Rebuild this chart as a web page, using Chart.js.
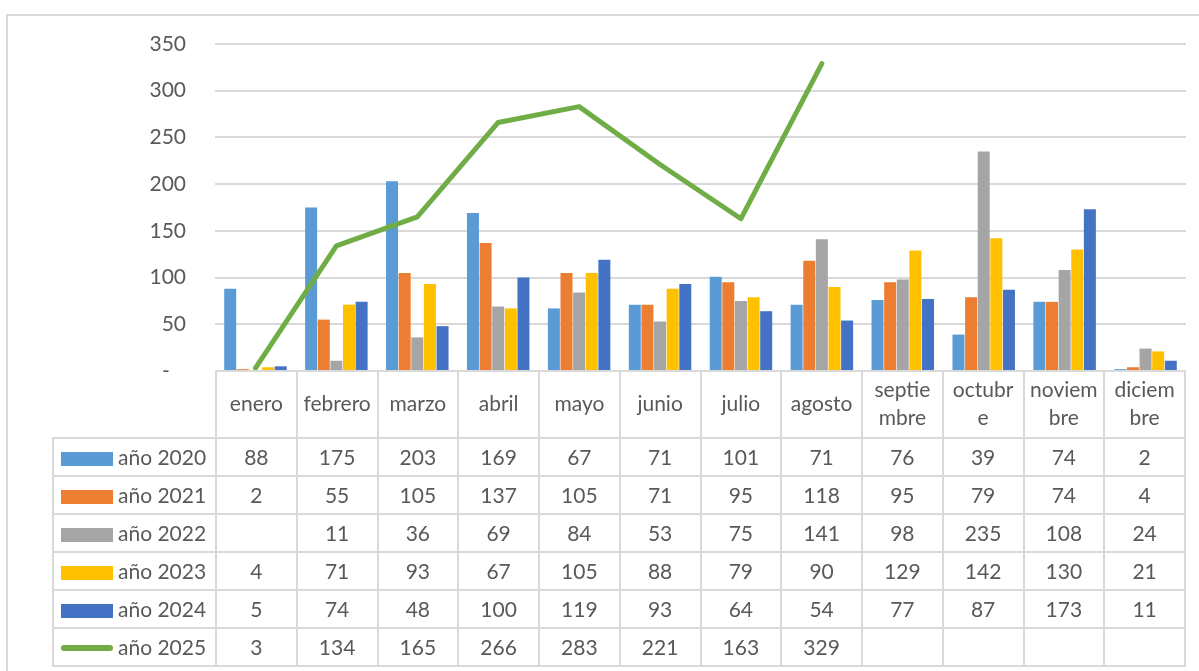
<!DOCTYPE html>
<html lang="es">
<head>
<meta charset="utf-8">
<script src="https://cdn.jsdelivr.net/npm/chart.js@4.4.1/dist/chart.umd.min.js"></script>
<style>
  html, body { margin: 0; padding: 0; background: #fff; overflow: hidden; }
  body { width: 1199px; height: 671px; position: relative; font-family: Lato, sans-serif; color: #595959; }
  #frame { position: absolute; left: 6px; top: 14px; width: 1300px; height: 700px; border: 2px solid #d9d9d9; box-sizing: border-box; }
  #chart { position: absolute; left: 0; top: 0; }
  #dataTable {
    position: absolute; left: 52px; top: 370px;
    border-collapse: collapse; table-layout: fixed; width: 1134px;
    font-size: 21px; color: #595959;
  }
  #dataTable td { border: 2px solid #d9d9d9; padding: 0; text-align: center; vertical-align: middle; white-space: nowrap; overflow: hidden; }
  #dataTable tr.head td { height: 62px; line-height: 28px; padding-bottom: 3px; }
  #dataTable tr.row td { height: 36px; line-height: 22px; }
  #dataTable td.corner { border-top: none; border-left: none; }
  #dataTable td.name { text-align: left; padding-left: 7px; }
  .key { display: inline-block; width: 52px; height: 14px; margin-right: 5px; vertical-align: -1px; }
  .key.line { height: 6px; border-radius: 3px; vertical-align: 4px; }
</style>
</head>
<body>
<div id="frame"></div>
<canvas id="chart" width="1199" height="671"></canvas>
<table id="dataTable"></table>

<script>
// ── Data ───────────────────────────────────────────────────────────────────
const months = ['enero', 'febrero', 'marzo', 'abril', 'mayo', 'junio', 'julio', 'agosto',
                'septiembre', 'octubre', 'noviembre', 'diciembre'];
// header cells as Excel wrapped them
const monthLabels = [['enero'], ['febrero'], ['marzo'], ['abril'], ['mayo'], ['junio'], ['julio'], ['agosto'],
                     ['septie', 'mbre'], ['octubr', 'e'], ['noviem', 'bre'], ['diciem', 'bre']];

const y2020 = [88, 175, 203, 169, 67, 71, 101, 71, 76, 39, 74, 2];
const y2021 = [2, 55, 105, 137, 105, 71, 95, 118, 95, 79, 74, 4];
const y2022 = [null, 11, 36, 69, 84, 53, 75, 141, 98, 235, 108, 24];
const y2023 = [4, 71, 93, 67, 105, 88, 79, 90, 129, 142, 130, 21];
const y2024 = [5, 74, 48, 100, 119, 93, 64, 54, 77, 87, 173, 11];
const y2025 = [3, 134, 165, 266, 283, 221, 163, 329, null, null, null, null];

const yTicks = [0, 50, 100, 150, 200, 250, 300, 350];

const series = [
  { name: 'año 2020', data: y2020, color: '#5B9BD5', type: 'bar' },
  { name: 'año 2021', data: y2021, color: '#ED7D31', type: 'bar' },
  { name: 'año 2022', data: y2022, color: '#A5A5A5', type: 'bar' },
  { name: 'año 2023', data: y2023, color: '#FFC000', type: 'bar' },
  { name: 'año 2024', data: y2024, color: '#4472C4', type: 'bar' },
  { name: 'año 2025', data: y2025, color: '#70AD47', type: 'line' }
];

// ── Chart ──────────────────────────────────────────────────────────────────
const chart = new Chart(document.getElementById('chart'), {
  data: {
    labels: months,
    datasets: series.map(s => s.type === 'bar' ? {
      type: 'bar',
      label: s.name,
      data: s.data,
      backgroundColor: s.color,
      borderWidth: 0,
      categoryPercentage: 0.78,
      barPercentage: 0.95,
      order: 1
    } : {
      type: 'line',
      label: s.name,
      data: s.data,
      borderColor: s.color,
      backgroundColor: s.color,
      borderWidth: 5,
      borderCapStyle: 'round',
      borderJoinStyle: 'round',
      tension: 0,
      pointRadius: 0,
      spanGaps: false,
      order: 0
    })
  },
  options: {
    responsive: false,
    animation: false,
    layout: { padding: { top: 44, right: 13, bottom: 300, left: 0 } },
    plugins: { legend: { display: false }, tooltip: { enabled: false } },
    scales: {
      x: { display: false, offset: true },
      y: {
        min: 0,
        max: 350,
        afterFit: s => { s.width = 215; },
        afterBuildTicks: s => { s.ticks = yTicks.map(v => ({ value: v })); },
        border: { display: false },
        grid: { color: '#d9d9d9', lineWidth: 2, drawTicks: false },
        ticks: {
          padding: 29,
          color: '#595959',
          font: { family: 'Lato', size: 21 },
          callback: v => v === 0 ? '-   ' : v
        }
      }
    }
  }
});

// ── Data table under the plot ──────────────────────────────────────────────
const table = document.getElementById('dataTable');
let html = '<colgroup><col style="width:163px">' + months.map(() => '<col>').join('') + '</colgroup>';
html += '<tr class="head"><td class="corner"></td>' +
        monthLabels.map(l => `<td>${l.join('<br>')}</td>`).join('') + '</tr>';
series.forEach(s => {
  const key = `<span class="key${s.type === 'line' ? ' line' : ''}" style="background:${s.color}"></span>`;
  html += `<tr class="row"><td class="name">${key}${s.name}</td>` +
          s.data.map(v => `<td>${v == null ? '' : v}</td>`).join('') + '</tr>';
});
table.innerHTML = html;
</script>
</body>
</html>
